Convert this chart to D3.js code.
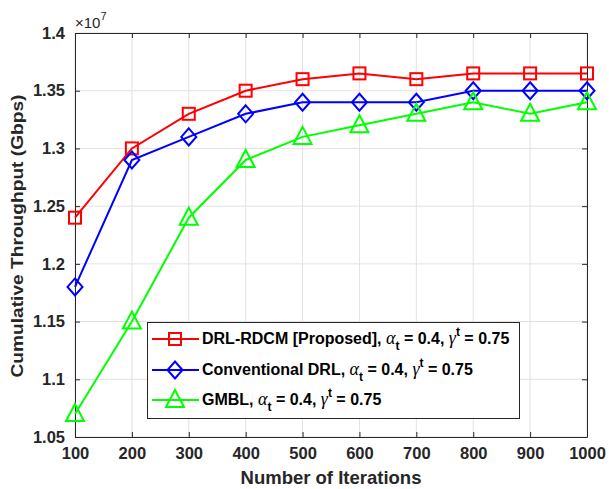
<!DOCTYPE html>
<html>
<head>
<meta charset="utf-8">
<script src="https://cdn.jsdelivr.net/npm/d3@7"></script>
<style>
  html, body { margin: 0; padding: 0; background: #fff; }
  svg { display: block; }
  text { font-family: "Liberation Sans", Arial, sans-serif; }
</style>
</head>
<body>
<svg id="chart" width="609" height="489"></svg>
<script>
// Iteration counts on the x axis
const iterations = [100, 200, 300, 400, 500, 600, 700, 800, 900, 1000];
// Cumulative throughput, in units of 1e7 Gbps
const proposed = [1.24, 1.30, 1.33, 1.35, 1.36, 1.365, 1.36, 1.365, 1.365, 1.365];
const conventional = [1.18, 1.29, 1.31, 1.33, 1.34, 1.34, 1.34, 1.35, 1.35, 1.35];
const gmbl = [1.07, 1.15, 1.24, 1.29, 1.31, 1.32, 1.33, 1.34, 1.33, 1.34];
const yTicks = [1.05, 1.1, 1.15, 1.2, 1.25, 1.3, 1.35, 1.4];
const seriesNames = ["DRL-RDCM [Proposed], ", "Conventional DRL, ", "GMBL, "];

const series = [
  { name: seriesNames[0], values: proposed, color: "#ff0000", marker: "square" },
  { name: seriesNames[1], values: conventional, color: "#0000ff", marker: "diamond" },
  { name: seriesNames[2], values: gmbl, color: "#00ff00", marker: "triangle" }
];

const svg = d3.select("#chart");
const m = { left: 75, right: 22, top: 33, bottom: 52 };
const W = 609, H = 489;
const x = d3.scaleLinear().domain([100, 1000]).range([m.left, W - m.right]);
const y = d3.scaleLinear().domain([1.05, 1.4]).range([H - m.bottom, m.top]);
const x0 = x.range()[0], x1 = x.range()[1], y0 = y.range()[0], y1 = y.range()[1];

// Grid
const grid = svg.append("g");
grid.selectAll(".gx").data(iterations).enter().append("line")
  .attr("x1", d => x(d)).attr("x2", d => x(d)).attr("y1", y0).attr("y2", y1)
  .attr("stroke", "#e2e2e2").attr("stroke-width", 1);
grid.selectAll(".gy").data(yTicks).enter().append("line")
  .attr("x1", x0).attr("x2", x1).attr("y1", d => y(d)).attr("y2", d => y(d))
  .attr("stroke", "#e2e2e2").attr("stroke-width", 1);

// Axes with inward ticks on all four sides
const axisColor = "#262626";
const fmtY = d => (Math.round(d * 100) / 100).toString();
const fmtX = d => String(d);
const bottomAxis = d3.axisBottom(x).tickValues(iterations).tickSizeInner(-5).tickSizeOuter(0).tickPadding(10).tickFormat(fmtX);
const topAxis = d3.axisTop(x).tickValues(iterations).tickSizeInner(-5).tickSizeOuter(0).tickFormat("");
const leftAxis = d3.axisLeft(y).tickValues(yTicks).tickSizeInner(-5).tickSizeOuter(0).tickPadding(10).tickFormat(fmtY);
const rightAxis = d3.axisRight(y).tickValues(yTicks).tickSizeInner(-5).tickSizeOuter(0).tickFormat("");

function styleAxis(g) {
  g.select(".domain").attr("stroke", axisColor).attr("stroke-width", 1);
  g.selectAll(".tick line").attr("stroke", axisColor);
  g.selectAll(".tick text").attr("fill", axisColor)
    .style("font-family", "'Liberation Sans', Arial, sans-serif")
    .style("font-size", "16.5px").style("font-weight", "bold");
}
svg.append("g").attr("transform", `translate(0,${y0})`).call(bottomAxis).call(styleAxis);
svg.append("g").attr("transform", `translate(0,${y1})`).call(topAxis).call(styleAxis);
svg.append("g").attr("transform", `translate(${x0},0)`).call(leftAxis).call(styleAxis);
svg.append("g").attr("transform", `translate(${x1},0)`).call(rightAxis).call(styleAxis);

// Axis titles
svg.append("text").attr("x", (x0 + x1) / 2).attr("y", 484)
  .attr("text-anchor", "middle").attr("fill", axisColor)
  .style("font-size", "18.5px").style("font-weight", "bold")
  .text("Number of Iterations");
svg.append("text")
  .attr("transform", `translate(23,${(y0 + y1) / 2 + 1}) rotate(-90)`)
  .attr("text-anchor", "middle").attr("fill", axisColor)
  .attr("textLength", 283).attr("lengthAdjust", "spacingAndGlyphs")
  .style("font-size", "17px").style("font-weight", "bold")
  .text("Cumulative Throughput (Gbps)");

// Exponent label
const ex = svg.append("text").attr("x", x0).attr("y", 28).attr("fill", axisColor)
  .style("font-size", "15px");
ex.append("tspan").text("\u00d710");
ex.append("tspan").attr("dy", -8).style("font-size", "11px").text("7");

// Marker drawing
function drawMarker(g, type, cx, cy, color) {
  if (type === "square") {
    g.append("rect").attr("x", cx - 6).attr("y", cy - 6).attr("width", 12).attr("height", 12)
      .attr("fill", "none").attr("stroke", color).attr("stroke-width", 2);
  } else if (type === "diamond") {
    g.append("path").attr("d", `M${cx},${cy - 8.5}L${cx + 7.5},${cy}L${cx},${cy + 8.5}L${cx - 7.5},${cy}Z`)
      .attr("fill", "none").attr("stroke", color).attr("stroke-width", 2);
  } else {
    g.append("path").attr("d", `M${cx},${cy - 10}L${cx + 9},${cy + 7}L${cx - 9},${cy + 7}Z`)
      .attr("fill", "none").attr("stroke", color).attr("stroke-width", 2);
  }
}

const line = d3.line().x((d, i) => x(iterations[i])).y(d => y(d));
series.forEach(s => {
  const g = svg.append("g");
  g.append("path").datum(s.values).attr("d", line)
    .attr("fill", "none").attr("stroke", s.color).attr("stroke-width", 2);
  s.values.forEach((v, i) => drawMarker(g, s.marker, x(iterations[i]), y(v), s.color));
});

// Legend
const lg = svg.append("g");
lg.append("rect").attr("x", 147.5).attr("y", 322.5).attr("width", 372).attr("height", 96)
  .attr("fill", "#fff").attr("stroke", axisColor).attr("stroke-width", 1);
const rowY = [339, 370, 400];
series.forEach((s, i) => {
  const ry = rowY[i];
  lg.append("line").attr("x1", 152).attr("x2", 199).attr("y1", ry).attr("y2", ry)
    .attr("stroke", s.color).attr("stroke-width", 2);
  drawMarker(lg, s.marker, 175, ry, s.color);
  const t = lg.append("text").attr("x", 202).attr("y", ry + 5).attr("fill", "#000")
    .style("font-size", "16px").style("font-weight", "bold");
  t.append("tspan").text(s.name);
  t.append("tspan").style("font-family", "'Liberation Serif', 'Times New Roman', serif")
    .style("font-style", "italic").style("font-weight", "normal").style("font-size", "18px").text("\u03b1");
  t.append("tspan").attr("dy", 6).style("font-size", "12px").text("t");
  t.append("tspan").attr("dy", -6).text(" = 0.4, ");
  t.append("tspan").style("font-family", "'Liberation Serif', 'Times New Roman', serif")
    .style("font-style", "italic").style("font-weight", "normal").style("font-size", "18px").text("\u03b3");
  t.append("tspan").attr("dy", -8).style("font-size", "12px").text("t");
  t.append("tspan").attr("dy", 8).text(" = 0.75");
});
</script>
</body>
</html>
